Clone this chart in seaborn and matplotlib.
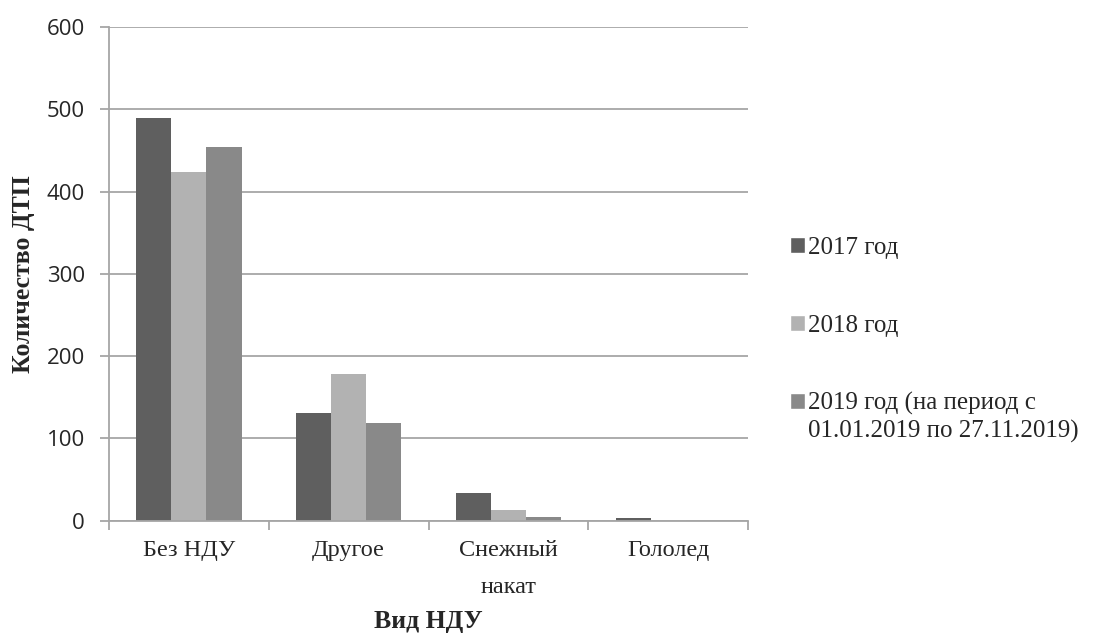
import matplotlib
matplotlib.use("Agg")
import matplotlib.pyplot as plt
import pandas as pd
import seaborn as sns

categories = ["Без НДУ", "Другое", "Снежный\nнакат", "Гололед"]
series = ["2017 год", "2018 год", "2019 год (на период с 01.01.2019 по 27.11.2019)"]
# legend text for the last series is wrapped after "с" like in the original
legend_lines = ["2017 год", "2018 год", "2019 год (на период с", "01.01.2019 по 27.11.2019)"]
v2017 = [490, 131, 34, 3]
v2018 = [424, 178, 13, 1]
v2019 = [454, 118, 4, 0]
colors = ["#5f5f5f", "#b2b2b2", "#898989"]

df = pd.DataFrame({
    "cat": categories * 3,
    "year": [series[0]] * 4 + [series[1]] * 4 + [series[2]] * 4,
    "value": v2017 + v2018 + v2019,
})

sns.set_style("white")
plt.rcParams["font.family"] = ["Liberation Serif", "DejaVu Serif"]

fig = plt.figure(figsize=(11.01, 6.33), dpi=100)
ax = fig.add_axes([0.099, 0.1777, 0.5805, 0.7796])
sns.barplot(data=df, x="cat", y="value", hue="year", order=categories,
            hue_order=series, palette=colors, width=0.66, saturation=1,
            linewidth=0, ax=ax, legend=False)

ax.set_ylim(0, 600)
ax.set_xlim(-0.5, 3.5)
ax.set_yticks(range(0, 601, 100))
ax.yaxis.grid(True, color="#a6a6a6", linewidth=1.3)
ax.set_axisbelow(True)
for s in ["top", "right"]:
    ax.spines[s].set_visible(False)
for s in ["left", "bottom"]:
    ax.spines[s].set_color("#a6a6a6")
    ax.spines[s].set_linewidth(1.3)

for lbl in ax.get_yticklabels():
    lbl.set_fontfamily("Open Sans")
    lbl.set_fontsize(16)
ax.tick_params(axis="y", length=6.5, width=1.3, color="#a6a6a6", pad=11, left=True)

# category boundaries as ticks, labels in the middle
ax.set_xticks([-0.5, 0.5, 1.5, 2.5, 3.5])
ax.set_xticklabels([])
ax.set_xticks(range(4), minor=True)
ax.set_xticklabels(categories, minor=True, fontsize=17.5, linespacing=2.0)
ax.tick_params(axis="x", which="major", length=6.5, width=1.3, color="#a6a6a6", bottom=True)
ax.tick_params(axis="x", which="minor", length=0, pad=14)

ax.set_xlabel("Вид НДУ", fontsize=18.5, fontweight="bold", labelpad=9)
ax.set_ylabel("Количество ДТП", fontsize=18.5, fontweight="bold", labelpad=8)

handles = [plt.Rectangle((0, 0), 1, 1, facecolor=c) for c in colors]
leg = fig.legend(handles, legend_lines[:3], loc="upper left", bbox_to_anchor=(0.708, 0.641),
                 frameon=False, fontsize=18, handlelength=0.6, handleheight=0.6,
                 handletextpad=0.15, labelspacing=2.22, borderaxespad=0)

# second line of the last legend entry, placed right under the first one
fig.canvas.draw()
bb = leg.get_texts()[2].get_window_extent().transformed(fig.transFigure.inverted())
fig.text(bb.x0, bb.y0 - 0.043, legend_lines[3], fontsize=18, va="bottom", ha="left")

fig.savefig("out.png", dpi=100)
